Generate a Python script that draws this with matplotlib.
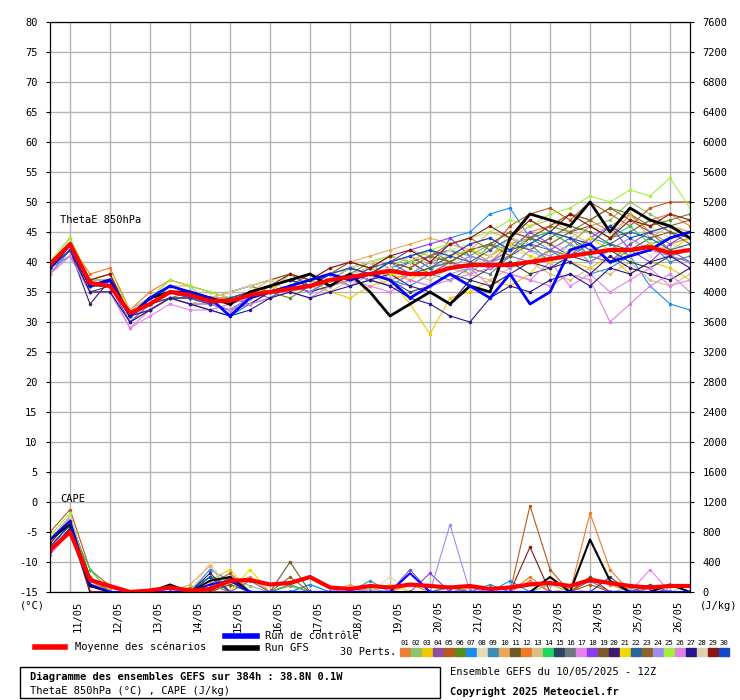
import matplotlib
matplotlib.use("Agg")
import matplotlib.pyplot as plt
import numpy as np
from matplotlib.patches import Rectangle
from matplotlib.lines import Line2D
import matplotlib.transforms as mtrans

hours = list(range(0, 385, 12))  # from 10/05 12Z
day_labels = ["11/05","12/05","13/05","14/05","15/05","16/05","17/05","18/05",
              "19/05","20/05","21/05","22/05","23/05","24/05","25/05","26/05"]
left_ticks = list(range(-15, 81, 5))
right_ticks = list(range(0, 7601, 400))

colors = ["#e8803a","#8cc36b","#f0c800","#8c50a8","#b85a1a","#5a8c1a","#1a8cf0","#e8d8b4",
          "#3c8cb4","#e8a85a","#6e5a28","#f07828","#d8c080","#1ad860","#284660","#6e7880",
          "#e880f0","#8c3cf0","#7a5a28","#3c1a6e","#f0d800","#2a64a0","#8c6428","#a08cf0",
          "#a0f03c","#e080e0","#28148c","#e0d0b0","#8c1414","#1446c8"]

theta = [
[39,43,37,38,31,33,36,35,34,33,35,36,37,36,38,39,40,37,38,40,41,42,40,43,44,45,43,46,44,48,45,43,44],
[40,44,36,37,32,34,37,36,33,32,34,35,38,37,36,38,39,40,42,41,40,38,41,44,42,40,43,46,47,50,48,46,45],
[39,42,35,35,30,32,34,33,32,33,34,36,35,37,35,34,36,37,33,28,34,35,37,36,38,42,40,39,41,38,40,39,37],
[38,42,36,36,31,33,35,34,33,34,33,35,36,35,37,38,39,38,40,41,42,40,39,41,43,42,44,41,40,43,45,42,40],
[40,43,37,38,31,34,36,35,34,33,35,36,37,36,37,39,38,40,39,41,43,44,42,46,48,49,47,50,48,46,49,50,50],
[39,42,36,37,32,33,34,35,34,35,36,35,34,36,37,38,40,39,41,42,40,39,43,45,44,46,45,47,49,48,46,47,48],
[39,41,35,35,30,32,34,33,32,31,33,34,36,35,36,37,38,37,36,38,44,45,48,49,44,42,40,38,39,41,36,33,32],
[40,43,37,36,32,33,35,35,34,34,35,36,37,38,37,38,39,38,37,39,40,41,40,42,41,43,42,40,42,44,41,43,42],
[39,42,36,36,31,33,35,34,34,33,34,35,36,37,38,36,37,39,40,38,37,39,40,41,43,40,42,44,43,41,43,40,41],
[40,44,37,38,32,34,36,36,35,34,35,37,38,37,39,40,41,42,43,44,43,42,45,44,46,47,45,43,46,48,44,46,45],
[39,43,36,37,31,33,35,34,33,34,35,35,36,38,37,39,38,40,41,39,40,42,41,43,42,44,46,45,43,42,44,45,44],
[40,43,38,39,32,35,37,36,35,34,34,36,37,36,38,39,40,41,40,42,41,43,44,42,45,46,48,47,45,49,47,48,46],
[39,42,36,36,30,32,34,33,34,35,36,37,35,36,35,37,38,36,38,37,39,38,37,39,40,38,37,39,38,40,37,36,38],
[40,43,37,37,31,33,36,35,34,33,35,36,37,36,37,39,40,39,38,40,42,41,43,42,44,45,43,41,44,46,43,44,45],
[39,42,35,36,31,33,34,34,33,32,34,35,36,35,36,37,38,37,35,36,38,37,39,40,38,39,41,40,42,40,39,41,40],
[39,42,36,36,31,32,34,33,33,34,35,34,36,37,36,38,37,36,38,39,40,39,38,41,40,42,41,43,40,42,43,41,42],
[38,41,35,35,29,31,33,32,32,33,34,35,35,36,37,36,38,39,37,36,38,39,36,38,37,40,36,38,35,37,39,36,37],
[39,42,36,36,30,33,35,34,33,32,34,35,36,37,38,37,39,40,42,43,44,41,40,42,45,43,41,44,46,42,40,43,45],
[40,43,36,37,32,34,35,35,34,35,36,37,38,36,38,40,39,41,40,38,40,42,43,41,44,43,45,46,44,45,47,45,43],
[39,42,33,37,31,32,34,34,33,32,33,35,36,35,37,38,37,38,36,35,33,37,36,38,40,39,40,38,41,39,38,37,39],
[39,42,36,36,31,33,35,34,33,34,35,36,35,37,36,37,39,38,37,39,41,42,41,43,41,40,42,44,42,41,43,42,44],
[39,42,36,37,31,33,35,35,34,33,35,36,37,36,38,37,39,40,38,39,41,40,42,44,43,45,44,42,43,45,44,42,43],
[40,43,37,37,32,34,36,35,34,34,35,36,37,38,37,39,38,40,39,41,40,42,43,45,44,46,48,47,49,47,45,46,47],
[39,42,36,36,31,33,35,34,33,32,34,35,36,35,37,38,37,36,38,40,39,41,40,39,42,41,43,40,42,44,42,41,40],
[40,44,37,38,32,34,37,36,35,34,35,36,38,37,38,39,40,41,40,42,43,44,45,47,46,48,49,51,50,52,51,54,49],
[38,41,35,35,29,32,34,33,33,32,33,34,35,34,36,37,36,35,37,36,37,38,39,38,37,36,38,37,30,33,36,38,35],
[39,42,35,35,30,32,34,33,32,31,32,34,35,34,35,36,37,36,34,33,31,30,34,36,35,37,38,36,39,38,40,41,39],
[40,43,37,37,32,34,36,35,34,35,36,37,37,38,37,39,40,39,41,40,42,43,41,44,43,45,44,46,45,47,46,44,45],
[40,43,37,38,31,34,36,35,34,33,35,36,38,37,39,40,39,41,42,40,43,44,46,44,47,45,48,46,44,47,46,48,47],
[39,42,36,36,31,33,35,34,33,34,35,36,37,36,38,39,38,40,41,42,41,43,44,42,43,45,44,43,46,44,45,46,44],
]
theta_control = [39,43,36,37,31,34,36,35,34,31,34,35,36,37,38,37,38,37,34,36,38,36,34,38,33,35,42,43,40,41,42,44,45]
theta_gfs = [39,43,36,37,31,34,35,35,34,33,35,36,37,38,36,38,35,31,33,35,33,36,35,44,48,47,46,50,45,49,47,46,44]
theta_mean = [39.5,43,36.5,36,31.5,33,35,34.5,33.5,33.5,34.5,35,35.5,36,37,37.5,38,38.5,38,38,39,39.5,39.5,39.5,40,40.5,41,41.5,42,42,42.5,41.5,42]

cape = [
[600,900,100,50,0,0,40,0,0,100,200,0,80,0,0,60,0,0,100,0,0,50,0,0,150,0,0,200,100,0,0,0,0],
[700,1000,150,0,0,0,0,60,0,200,80,0,0,100,0,0,40,0,0,0,80,0,0,0,0,100,0,0,0,50,0,0,0],
[500,800,80,0,0,0,0,0,150,300,0,0,0,0,0,0,0,100,0,0,0,0,0,0,0,0,50,0,0,0,0,0,0],
[650,950,200,0,0,0,50,0,0,0,150,0,100,0,0,0,0,0,300,0,0,0,0,0,0,0,0,150,0,0,0,0,0],
[800,1100,300,80,0,0,0,0,100,250,0,0,0,0,0,0,0,0,0,0,0,0,0,0,1150,300,0,100,0,0,50,0,0],
[600,900,100,0,0,0,0,50,200,100,0,0,0,0,0,0,0,0,0,0,60,0,0,0,0,0,0,0,0,0,0,0,0],
[550,850,0,0,0,0,0,0,300,150,0,0,0,100,0,0,0,0,0,0,0,0,0,150,0,0,0,0,0,0,0,0,0],
[700,950,150,0,0,0,0,0,400,0,0,0,0,0,0,0,0,200,0,0,0,0,0,0,0,0,0,0,0,0,0,0,0],
[600,900,100,0,0,0,0,0,0,200,0,0,0,0,0,0,150,0,0,0,0,0,100,0,0,0,0,0,0,0,0,0,0],
[700,1000,200,0,0,0,0,100,350,0,0,0,0,0,0,100,0,0,0,0,0,0,0,0,0,0,0,0,0,0,0,0,0],
[650,950,0,0,0,0,0,0,0,100,0,0,400,0,0,0,0,0,0,0,0,0,0,0,0,0,0,200,0,0,0,0,0],
[700,1000,150,0,0,0,0,0,200,0,0,0,0,0,0,0,0,0,0,0,0,0,0,0,200,0,0,1050,300,0,0,0,0],
[500,800,0,0,0,0,0,0,100,0,0,0,0,0,0,0,0,0,0,0,0,0,0,0,0,0,0,0,0,0,0,0,0],
[600,900,300,0,0,0,0,0,200,150,0,0,100,0,0,0,0,0,0,0,0,0,0,0,0,0,0,0,0,0,0,0,0],
[650,950,100,0,0,0,0,0,0,0,0,0,0,0,0,0,0,0,0,0,0,0,0,0,0,0,0,0,200,0,0,0,0],
[600,900,0,0,0,0,0,0,100,0,0,0,0,0,0,0,0,0,0,0,0,0,0,0,0,0,0,0,0,0,0,0,0],
[500,800,100,0,0,0,0,0,0,0,0,0,0,0,0,0,0,0,0,0,0,0,0,0,0,0,0,0,0,0,300,0,0],
[550,850,0,0,0,0,0,0,0,200,0,0,0,0,0,0,0,0,0,250,0,0,0,0,0,0,0,0,0,0,0,0,0],
[700,1000,0,0,0,0,0,0,0,0,0,0,0,0,0,0,0,0,0,0,0,0,0,0,0,0,0,0,0,0,0,0,0],
[600,900,100,0,0,0,0,0,250,0,0,0,0,0,0,0,0,0,0,0,0,0,0,0,0,0,0,0,0,0,0,0,0],
[650,950,100,0,0,0,0,0,0,0,300,0,0,0,0,0,0,0,0,0,0,0,0,0,0,0,0,0,0,0,0,0,0],
[600,900,0,0,0,0,0,0,0,0,0,0,0,0,0,0,0,0,0,0,0,0,0,0,0,0,0,0,0,0,100,0,0],
[700,1000,200,0,0,0,0,0,0,0,0,0,200,0,0,0,0,0,0,0,0,0,0,0,0,0,0,0,0,0,0,0,0],
[600,900,0,0,0,0,0,0,0,0,0,0,0,0,0,0,0,0,0,0,900,0,0,0,0,0,0,0,0,0,0,0,0],
[750,1050,100,0,0,0,0,0,0,0,0,0,0,0,0,0,0,0,0,0,0,0,0,0,0,0,0,0,0,0,0,0,100],
[500,800,0,0,0,0,0,0,0,0,0,0,0,0,0,0,0,0,0,0,0,0,0,0,0,0,0,0,0,0,0,0,0],
[550,850,0,0,0,0,0,0,0,0,0,0,0,0,0,0,0,0,0,0,0,0,0,0,0,0,0,0,0,0,0,0,0],
[700,1000,100,0,0,0,0,0,0,0,0,0,0,0,0,0,0,0,0,0,0,0,0,0,0,0,0,0,0,0,0,0,0],
[650,950,0,0,0,0,0,0,0,0,0,0,0,0,0,0,0,0,0,0,0,0,0,0,600,0,0,0,0,0,0,0,0],
[600,900,100,0,0,0,0,0,200,0,0,0,0,0,0,0,0,0,0,0,0,0,0,0,0,0,0,0,0,0,0,0,0],
]
cape_control = [700,950,100,0,0,0,0,0,100,150,0,0,0,0,0,0,0,0,250,0,0,0,0,0,0,0,0,0,0,0,0,0,0]
cape_gfs = [700,900,80,0,0,0,100,0,150,200,0,0,0,0,0,0,0,0,0,0,0,0,0,0,0,200,0,700,150,0,0,100,0]
cape_mean = [560,800,160,80,0,20,60,20,40,150,160,100,120,200,60,40,80,60,100,80,60,80,40,60,100,120,80,160,120,80,60,80,80]

W, H = 740, 700
fig = plt.figure(figsize=(7.4, 7.0), dpi=100)
fig.patch.set_facecolor("white")
def fx(p): return p / W
def fy(p): return 1 - p / H
ax = fig.add_axes([fx(50), fy(592), fx(640), fy(22) - fy(592)])
mono = "DejaVu Sans Mono"
fs = 7.5

ax.set_xlim(0, 384)
ax.set_ylim(-15, 80)
ax.set_yticks(left_ticks)
ax.set_yticklabels([str(t) for t in left_ticks], fontsize=fs, family=mono)
day_pos = [12 + 24 * i for i in range(16)]
ax.set_xticks(day_pos)
ax.set_xticklabels(day_labels, rotation=90, fontsize=fs, family=mono, ha="center")
ax.tick_params(axis="x", length=0, pad=6)
ax.tick_params(axis="y", length=3, pad=6)
off = mtrans.ScaledTranslation(8/100, 0, fig.dpi_scale_trans)
for lab in ax.get_xticklabels():
    lab.set_transform(lab.get_transform() + off)
ax.grid(True, color="#b4b4b4", lw=1)
ax.set_axisbelow(True)
for s in ax.spines.values():
    s.set_color("black")

ax2 = ax.twinx()
ax2.set_ylim(0, 7600)
ax2.set_yticks(right_ticks)
ax2.set_yticklabels([str(t) for t in right_ticks], fontsize=fs, family=mono)
ax2.tick_params(axis="y", length=3, pad=6)

def c2t(v):
    return np.array(v) / 80.0 - 15

for i in range(30):
    ax.plot(hours, theta[i], color=colors[i], lw=0.8, marker="o", ms=1.5, zorder=3)
    ax.plot(hours, c2t(cape[i]), color=colors[i], lw=0.8, marker="o", ms=1.5, zorder=3)
ax.plot(hours, theta_gfs, color="black", lw=2, zorder=4)
ax.plot(hours, c2t(cape_gfs), color="black", lw=1.5, zorder=4)
ax.plot(hours, theta_control, color="#0000ff", lw=2, zorder=5)
ax.plot(hours, c2t(cape_control), color="#0000ff", lw=1.5, zorder=5)
ax.plot(hours, theta_mean, color="#ff0000", lw=3, zorder=6)
ax.plot(hours, c2t(cape_mean), color="#ff0000", lw=3, zorder=6)

ax.text(6, 46.5, "ThetaE 850hPa", fontsize=fs, family=mono, zorder=7)
ax.text(6, 0, "CAPE", fontsize=fs, family=mono, zorder=7)
fig.text(fx(20), fy(606), "(°C)", fontsize=fs, family=mono, va="center")
fig.text(fx(700), fy(606), "(J/kg)", fontsize=fs, family=mono, va="center")

# legend
fig.add_artist(Line2D([fx(35), fx(65)], [fy(647), fy(647)], color="#ff0000", lw=4))
fig.text(fx(75), fy(647), "Moyenne des scénarios", fontsize=fs, family=mono, va="center")
fig.add_artist(Line2D([fx(225), fx(257)], [fy(636), fy(636)], color="#0000ff", lw=4))
fig.text(fx(265), fy(636), "Run de contrôle", fontsize=fs, family=mono, va="center")
fig.add_artist(Line2D([fx(225), fx(257)], [fy(648), fy(648)], color="black", lw=4))
fig.text(fx(265), fy(648), "Run GFS", fontsize=fs, family=mono, va="center")
fig.text(fx(396), fy(652), "30 Perts.", fontsize=fs, family=mono, va="center", ha="right")
for i in range(30):
    x0 = 400 + 11 * i
    fig.add_artist(Rectangle((fx(x0), fy(656)), fx(10), fy(648) - fy(656), color=colors[i]))
    fig.text(fx(x0 + 5), fy(643), "%02d" % (i + 1), fontsize=5.2, family=mono, ha="center", va="center")

fig.add_artist(Rectangle((fx(20), fy(698)), fx(420), fy(667) - fy(698), fill=False, ec="black", lw=1))
fig.text(fx(30), fy(677), "Diagramme des ensembles GEFS sur 384h : 38.8N 0.1W", fontsize=fs, family=mono, weight="bold", va="center")
fig.text(fx(30), fy(691), "ThetaE 850hPa (°C) , CAPE (J/kg)", fontsize=fs, family=mono, va="center")
fig.text(fx(450), fy(672), "Ensemble GEFS du 10/05/2025 - 12Z", fontsize=fs, family=mono, va="center")
fig.text(fx(450), fy(692), "Copyright 2025 Meteociel.fr", fontsize=fs, family=mono, weight="bold", va="center")

fig.savefig("out.png", dpi=100)
